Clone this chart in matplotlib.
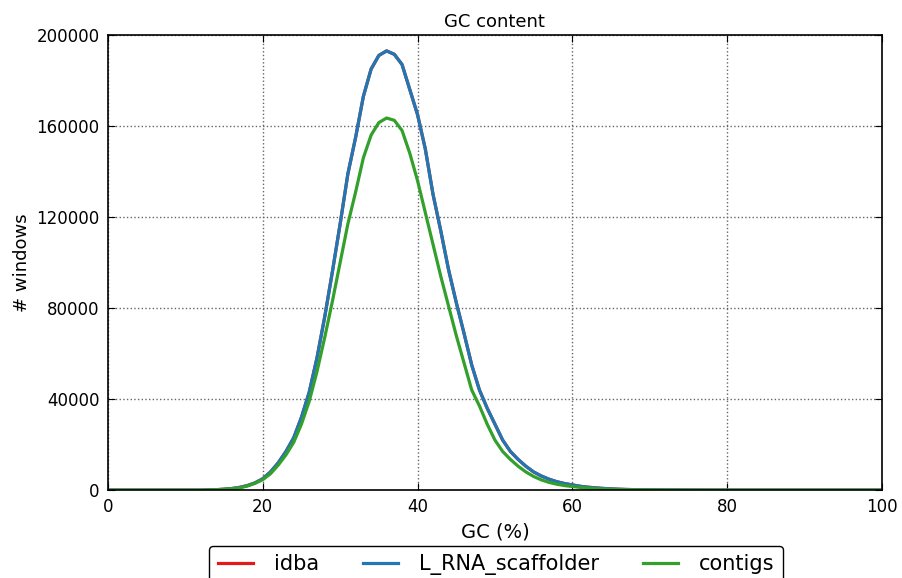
import numpy as np
import matplotlib
matplotlib.use('Agg')
import matplotlib.pyplot as plt

# GC (%) positions, one per integer percent
gc = np.arange(0, 101)

# L_RNA_scaffolder (blue) windows per GC%
scaffolder_head = [0] * 13 + [
    100, 200, 400, 700, 1200, 2000, 3200, 5000, 8000, 12000,
    17000, 23000, 32000, 43000, 58000, 76000, 96000, 117000, 139000, 155000,
    173000, 185000, 191000, 193000, 191500, 187000, 176000, 165000, 150000, 130000,
    114000, 97000, 82500, 69000, 55000, 44000, 36000, 29000, 22000, 17000,
    13500, 10500, 8000, 6200, 4800, 3700, 2900, 2300, 1700, 1300,
    1000, 750, 550, 400, 300, 220, 160, 120, 90, 70,
    50, 40, 30, 20, 15, 10, 5, 0]
scaffolder = scaffolder_head + [0] * (101 - len(scaffolder_head))

# idba (red) is hidden under the blue line
idba = list(scaffolder)

# contigs (green)
contigs_head = [0] * 13 + [
    100, 200, 350, 600, 1000, 1800, 3000, 4600, 7200, 11000,
    15500, 21000, 29000, 39000, 52000, 67000, 83000, 100000, 117000, 131000,
    146000, 156000, 161500, 163500, 162500, 158000, 148000, 136000, 122000, 108000,
    94000, 81000, 68000, 56000, 44000, 37000, 29000, 22000, 17000, 13500,
    10500, 8000, 6000, 4500, 3400, 2600, 2000, 1600, 1200, 900,
    700, 500, 380, 280, 200, 150, 110, 80, 60, 40,
    30, 20, 15, 10, 5, 0]
contigs = contigs_head + [0] * (101 - len(contigs_head))

names = ['idba', 'L_RNA_scaffolder', 'contigs']
colors = ['#E31A1C', '#1F78B4', '#33A02C']

fig = plt.figure(figsize=(9.02, 5.78), dpi=100)
ax = fig.add_axes([0.1197, 0.152, 0.858, 0.7875])

for ys, name, c in zip([idba, scaffolder, contigs], names, colors):
    ax.plot(gc, ys, color=c, lw=2.3, label=name)

ax.set_xlim(0, 100)
ax.set_ylim(0, 200000)
ax.set_xticks([0, 20, 40, 60, 80, 100])
ax.set_yticks([0, 40000, 80000, 120000, 160000, 200000])
ax.tick_params(direction='in', labelsize=12, length=5, pad=6,
               top=True, right=True)
ax.grid(True, linestyle=':', color='0.4', lw=1)
for s in ax.spines.values():
    s.set_linewidth(1.2)
ax.set_title('GC content', fontsize=13)
ax.set_xlabel('GC (%)', fontsize=14)
ax.set_ylabel('# windows', fontsize=13)

fig.legend(loc='upper center', bbox_to_anchor=(0.55, 0.056), ncol=3,
           fontsize=15, fancybox=True, framealpha=1, edgecolor='black',
           handlelength=1.7, handletextpad=1.0, columnspacing=2.1,
           borderaxespad=0)

fig.savefig('out.png', dpi=100)
